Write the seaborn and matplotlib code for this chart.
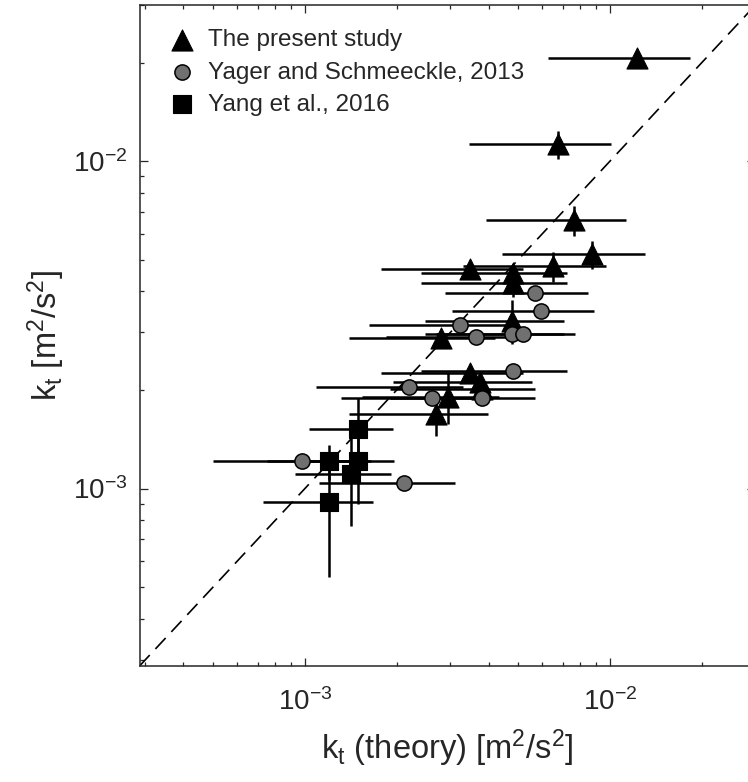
import numpy as np
import pandas as pd
import seaborn as sns
import matplotlib.pyplot as plt

# The present study (triangles)
tri_x = [0.01226, 0.00676, 0.00762, 0.00873, 0.0065, 0.00348, 0.00481, 0.00481,
         0.00477, 0.00279, 0.00348, 0.00375, 0.0038, 0.00294, 0.00269]
tri_y = [0.02073, 0.01125, 0.00659, 0.00519, 0.00477, 0.0047, 0.00457, 0.00426,
         0.00326, 0.00288, 0.00226, 0.00211, 0.00201, 0.00191, 0.00169]
tri_xerr = [0.0060, 0.0033, 0.0037, 0.0043, 0.0032, 0.0017, 0.0024, 0.0024,
            0.0023, 0.0014, 0.0017, 0.0018, 0.0019, 0.0014, 0.0013]
tri_yerr = [0.0008, 0.0011, 0.0007, 0.0005, 0.0005, 0.0002, 0.0002, 0.0004,
            0.0005, 0.0001, 0.0001, 0.0001, 0.0001, 0.00034, 0.00024]

# Yager and Schmeeckle, 2013 (circles)
cir_x = [0.00568, 0.00594, 0.00322, 0.00364, 0.00477, 0.00519, 0.00481, 0.00219,
         0.00261, 0.0038, 0.000978, 0.00211]
cir_y = [0.00395, 0.00348, 0.00317, 0.0029, 0.00296, 0.00296, 0.00228, 0.00205,
         0.00189, 0.00189, 0.00121, 0.00104]
cir_xerr = [0.0028, 0.0029, 0.0016, 0.0018, 0.0023, 0.0025, 0.0024, 0.0011,
            0.0013, 0.0019, 0.00048, 0.0010]

# Yang et al., 2016 (squares)
sq_x = [0.00149, 0.0012, 0.00149, 0.00142, 0.0012]
sq_y = [0.00152, 0.00121, 0.00121, 0.00111, 0.000908]
sq_xerr = [0.00046, 0.00045, 0.00047, 0.00049, 0.00047]
sq_yerr = [0.00037, 0.00015, 0.00031, 0.00034, 0.00037]

labels = ["The present study", "Yager and Schmeeckle, 2013", "Yang et al., 2016"]
lims = [2.87e-4, 3.0e-2]

sns.set_style("ticks")
plt.rcParams["font.family"] = ["Liberation Sans", "DejaVu Sans"]
plt.rcParams["mathtext.fontset"] = "custom"
plt.rcParams["mathtext.rm"] = "Liberation Sans"
plt.rcParams["mathtext.it"] = "Liberation Sans"
plt.rcParams["axes.unicode_minus"] = False

fig = plt.figure(figsize=(7.48, 7.82), dpi=100)
ax = fig.add_axes([0.1865, 0.1483, 0.8235, 0.8453])
ax.set_xscale("log")
ax.set_yscale("log")

ax.plot(lims, lims, color="k", lw=1.2, dashes=(9, 5), zorder=1)

ebkw = dict(fmt="none", ecolor="k", elinewidth=1.8, capsize=0, zorder=2)
ax.errorbar(sq_x, sq_y, xerr=sq_xerr, yerr=sq_yerr, **ebkw)
ax.errorbar(cir_x, cir_y, xerr=cir_xerr, **ebkw)
ax.errorbar(tri_x, tri_y, xerr=tri_xerr, yerr=tri_yerr, **ebkw)

df_tri = pd.DataFrame({"x": tri_x, "y": tri_y})
df_cir = pd.DataFrame({"x": cir_x, "y": cir_y})
df_sq = pd.DataFrame({"x": sq_x, "y": sq_y})

sns.scatterplot(data=df_tri, x="x", y="y", marker="^", s=230, color="k",
                edgecolor="k", linewidth=0.8, label=labels[0], ax=ax, zorder=3)
sns.scatterplot(data=df_cir, x="x", y="y", marker="o", s=120, color="#707070",
                edgecolor="k", linewidth=1.1, label=labels[1], ax=ax, zorder=3)
sns.scatterplot(data=df_sq, x="x", y="y", marker="s", s=155, color="k",
                edgecolor="k", linewidth=0.8, label=labels[2], ax=ax, zorder=3)

ax.set_xlim(lims)
ax.set_ylim(lims)

for s in ax.spines.values():
    s.set_linewidth(1.1)
ax.tick_params(which="both", direction="in", top=True, right=True, width=0.9)
ax.tick_params(which="major", length=6, labelsize=20)
ax.tick_params(which="minor", length=3)
ax.tick_params(axis="x", which="major", pad=16)
ax.tick_params(axis="y", which="major", pad=9)

ax.set_xlabel(r"k$_\mathrm{t}$ (theory) [m$^\mathrm{2}$/s$^\mathrm{2}$]", fontsize=23.5, labelpad=8)
ax.set_ylabel(r"k$_\mathrm{t}$ [m$^\mathrm{2}$/s$^\mathrm{2}$]", fontsize=23.5, labelpad=4)

ax.legend(loc="upper left", frameon=False, fontsize=17.5, labelspacing=0.42,
          handletextpad=0.3, borderaxespad=0.6, handlelength=1.5)

fig.savefig("out.png", dpi=100)
